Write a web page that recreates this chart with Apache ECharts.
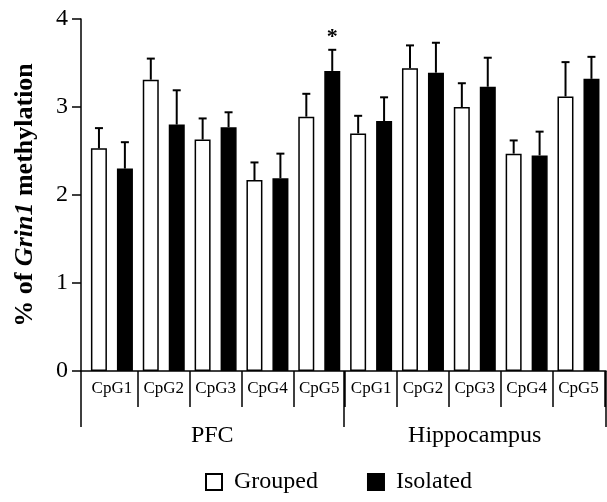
<!DOCTYPE html>
<html>
<head>
<meta charset="utf-8">
<script src="https://cdn.jsdelivr.net/npm/echarts@6/dist/echarts.min.js"></script>
<style>
  html, body { margin: 0; padding: 0; background: #fff; }
  #main { width: 607px; height: 502px; }
</style>
</head>
<body>
<div id="main"></div>
<script>
var regions = ['PFC', 'Hippocampus'];
var sites = ['CpG1', 'CpG2', 'CpG3', 'CpG4', 'CpG5', 'CpG1', 'CpG2', 'CpG3', 'CpG4', 'CpG5'];
var grouped = [2.53, 3.31, 2.63, 2.17, 2.89, 2.70, 3.44, 3.00, 2.47, 3.12];
var groupedErr = [0.23, 0.24, 0.24, 0.20, 0.26, 0.20, 0.26, 0.27, 0.15, 0.39];
var isolated = [2.30, 2.80, 2.77, 2.19, 3.41, 2.84, 3.39, 3.23, 2.45, 3.32];
var isolatedErr = [0.30, 0.39, 0.17, 0.28, 0.24, 0.27, 0.34, 0.33, 0.27, 0.25];
var isolatedSig = ['', '', '', '', '*', '', '', '', '', ''];
var yTicks = [0, 1, 2, 3, 4];

var font = "'Liberation Serif', 'Times New Roman', serif";
var dom = document.getElementById('main');
var myChart = echarts.init(dom);

// error bar (upward only) drawn over each bar
function errBar(side, sigs) {
    return function (params, api) {
        var i = api.value(0);
        var band = api.size([1, 0])[0];
        var base = api.coord([i, api.value(1)]);
        var top = api.coord([i, api.value(1) + api.value(2)]);
        var x = base[0] + side * band * 0.25;
        var kids = [
            {type: 'line', shape: {x1: x, y1: base[1], x2: x, y2: top[1]}, style: {stroke: '#000', lineWidth: 2}},
            {type: 'line', shape: {x1: x - 4, y1: top[1], x2: x + 4, y2: top[1]}, style: {stroke: '#000', lineWidth: 2}}
        ];
        if (sigs && sigs[i]) {
            kids.push({type: 'text', x: x, y: top[1] - 12,
                style: {text: sigs[i], fill: '#000', font: 'bold 22px ' + font, align: 'center', verticalAlign: 'middle'}});
        }
        return {type: 'group', children: kids};
    };
}

function errData(vals, errs) {
    var out = [];
    for (var i = 0; i < vals.length; i++) out.push([i, vals[i], errs[i]]);
    return out;
}

var option = {
    animation: false,
    grid: [
        {left: 81, right: 1, top: 19, bottom: 131, containLabel: false, outerBoundsMode: 'none'},
        {left: 86, right: 2.6, top: 19, bottom: 131, containLabel: false, outerBoundsMode: 'none'}
    ],
    legend: {
        data: ['Grouped', 'Isolated'],
        left: 205,
        top: 470,
        padding: 0,
        icon: 'rect',
        itemWidth: 16,
        itemHeight: 16,
        itemGap: 49,
        textStyle: {fontFamily: font, fontSize: 24, color: '#000', padding: [0, 0, 0, 7]}
    },
    xAxis: [
        {
            gridIndex: 0,
            type: 'category',
            data: regions,
            axisLine: {show: true, lineStyle: {color: '#000', width: 1.5}},
            axisTick: {show: true, alignWithLabel: false, length: 56, lineStyle: {color: '#000', width: 1.5}},
            axisLabel: {margin: 53, fontFamily: font, fontSize: 24, color: '#000', verticalAlign: 'top'}
        },
        {
            gridIndex: 1,
            type: 'category',
            data: sites,
            axisLine: {show: false},
            axisTick: {show: true, alignWithLabel: false, length: 36, interval: function (idx) { return idx > 0; }, lineStyle: {color: '#000', width: 1.5}},
            axisLabel: {interval: 0, margin: 9, fontFamily: font, fontSize: 17, color: '#000', verticalAlign: 'top'}
        }
    ],
    yAxis: [
        {
            gridIndex: 0,
            type: 'value',
            min: 0,
            max: 4,
            interval: 1,
            splitLine: {show: false},
            axisLine: {show: true, lineStyle: {color: '#000', width: 1.5}},
            axisTick: {show: true, length: 9, lineStyle: {color: '#000', width: 1.5}},
            axisLabel: {margin: 13, fontFamily: font, fontSize: 24, color: '#000',
                formatter: function (v) { return yTicks.indexOf(v) >= 0 ? String(v) : ''; }},
            name: '{a|% of }{b|Grin1}{a| methylation}',
            nameLocation: 'middle',
            nameGap: 43,
            nameRotate: 90,
            nameTextStyle: {
                rich: {
                    a: {fontFamily: font, fontSize: 26, fontWeight: 'bold', color: '#000'},
                    b: {fontFamily: font, fontSize: 26, fontWeight: 'bold', fontStyle: 'italic', color: '#000'}
                }
            }
        },
        {
            gridIndex: 1,
            type: 'value',
            min: 0,
            max: 4,
            show: false
        }
    ],
    series: [
        {
            name: 'Grouped',
            type: 'bar',
            xAxisIndex: 1,
            yAxisIndex: 1,
            data: grouped,
            barWidth: 16,
            barGap: '62.5%',
            itemStyle: {color: '#fff', borderColor: '#000', borderWidth: 1.5}
        },
        {
            name: 'Isolated',
            type: 'bar',
            xAxisIndex: 1,
            yAxisIndex: 1,
            data: isolated,
            barWidth: 16,
            itemStyle: {color: '#000', borderColor: '#000', borderWidth: 1.5}
        },
        {
            type: 'custom',
            xAxisIndex: 1,
            yAxisIndex: 1,
            renderItem: errBar(-1, null),
            data: errData(grouped, groupedErr),
            z: 5
        },
        {
            type: 'custom',
            xAxisIndex: 1,
            yAxisIndex: 1,
            renderItem: errBar(1, isolatedSig),
            data: errData(isolated, isolatedErr),
            z: 5
        }
    ]
};

if (option && typeof option === 'object') {
    myChart.setOption(option);
}
</script>
</body>
</html>
